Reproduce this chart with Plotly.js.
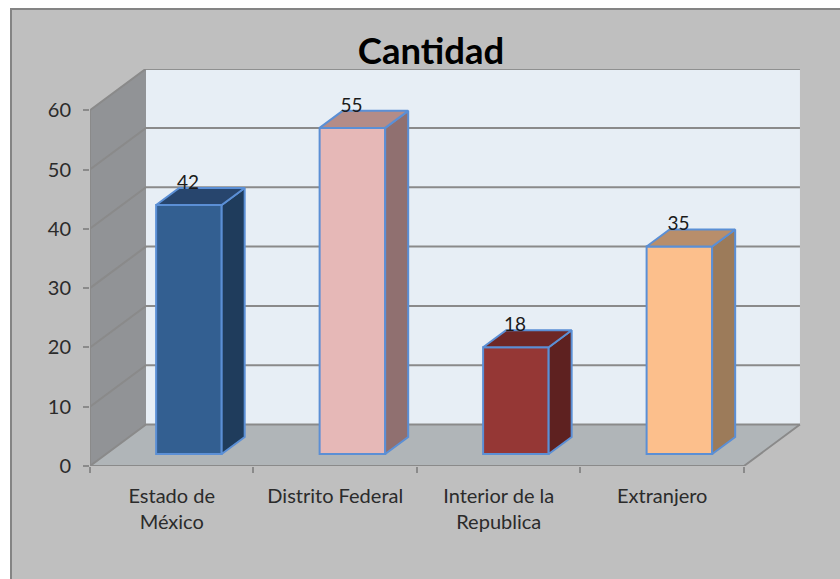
<!DOCTYPE html>
<html>
<head>
<meta charset="utf-8">
<script src="https://cdn.plot.ly/plotly-3.0.1.min.js"></script>
<style>
html,body{margin:0;padding:0;background:#fff;overflow:hidden}
#chart{position:absolute;left:12px;top:10px;width:828px;height:569px;border-left:2px solid #848484;border-top:2px solid #848484;margin-left:-2px;margin-top:-2px}
</style>
</head>
<body>
<div id="chart"></div>
<script>
// Data
var categories = ["Estado de<br>México", "Distrito Federal", "Interior de la<br>Republica", "Extranjero"];
var values = [42, 55, 18, 35];
var yTicks = [0, 10, 20, 30, 40, 50, 60];

// Styles
var frontColors = ["#335F91", "#E6B8B7", "#953735", "#FCBF8C"];
var sideColors  = ["#1F3C5C", "#907070", "#5E2120", "#9C7B5A"];
var topColors   = ["#27456D", "#B38C88", "#6E2726", "#B88E6B"];
var edge = "#5B8FD5";
var gridColor = "#8A8A8A";
var textColor = "#2B2B2B";
var fontFamily = "Lato, 'Open Sans', sans-serif";

// 3D projection constants, in axis units
var wallDX = 0.3425, wallDY = 7;       // depth of the walls
var xMin = -0.5, xFront = 3.5, xMax = 3.855, yMax = 66.95;
var barBase = 2.02, barOff = -0.0955, barW = 0.401;
var barDX = 0.1407, barDY = 2.87;
var labelDX = 0.1, labelDY = 3.55;

function path(pts){ return "M" + pts.map(function(p){return p[0]+","+p[1];}).join("L") + "Z"; }
function line(pts){ return "M" + pts.map(function(p){return p[0]+","+p[1];}).join("L"); }

var shapes = [];
// left wall
shapes.push({type:"path", layer:"below", xref:"x", yref:"y", fillcolor:"#919396", line:{width:0},
  path:path([[xMin,0],[xMin+wallDX,wallDY],[xMin+wallDX,60+wallDY],[xMin,60]])});
// floor
shapes.push({type:"path", layer:"below", xref:"x", yref:"y", fillcolor:"#B0B5B8", line:{width:0},
  path:path([[xMin,0],[xMin+wallDX,wallDY],[xFront+wallDX,wallDY],[xFront,0]])});
// back wall
shapes.push({type:"path", layer:"below", xref:"x", yref:"y", fillcolor:"#E7EEF5", line:{width:0},
  path:path([[xMin+wallDX,wallDY],[xFront+wallDX,wallDY],[xFront+wallDX,60+wallDY],[xMin+wallDX,60+wallDY]])});
// grid
yTicks.forEach(function(t){
  var pts = [[xMin,t],[xMin+wallDX,t+wallDY],[xFront+wallDX,t+wallDY]];
  shapes.push({type:"path", layer:"below", xref:"x", yref:"y", line:{color:gridColor,width:2}, path:line(pts)});
});

var traces = [];
function edgeLine(xs, ys){
  traces.push({type:"scatter", mode:"lines", x:xs, y:ys, cliponaxis:false, hoverinfo:"skip", showlegend:false,
    line:{color:gridColor,width:2}});
}
edgeLine([xMin,xMin],[0,60]);
edgeLine([xMin,xFront,xFront+wallDX],[0,0,wallDY]);
edgeLine([xMin+wallDX,xFront+wallDX],[60+wallDY,60+wallDY]);

// bar front faces
traces.push({type:"bar", x:values.map(function(v,i){return i;}), y:values, base:barBase,
  width:barW, offset:barOff, hoverinfo:"skip", showlegend:false,
  marker:{color:frontColors, line:{color:edge,width:2}}});

// bar side and top faces
values.forEach(function(v,i){
  var l = i+barOff, r = l+barW, b = barBase, t = barBase+v;
  traces.push({type:"scatter", mode:"lines", fill:"toself", fillcolor:sideColors[i], hoverinfo:"skip", showlegend:false,
    line:{color:edge,width:2},
    x:[r,r+barDX,r+barDX,r,r], y:[b,b+barDY,t+barDY,t,b]});
  traces.push({type:"scatter", mode:"lines", fill:"toself", fillcolor:topColors[i], hoverinfo:"skip", showlegend:false,
    line:{color:edge,width:2},
    x:[l,l+barDX,r+barDX,r,l], y:[t,t+barDY,t+barDY,t,t]});
});

// value labels
traces.push({type:"scatter", mode:"text", hoverinfo:"skip", showlegend:false, cliponaxis:false,
  x:values.map(function(v,i){return i+labelDX;}),
  y:values.map(function(v){return v+barBase+labelDY;}),
  text:values.map(String), textposition:"middle center",
  textfont:{family:fontFamily,size:19,color:"#1a1a1a"}});

var layout = {
  width:828, height:569,
  margin:{l:78,r:38,t:59,b:113,pad:0},
  paper_bgcolor:"#BFBFBF", plot_bgcolor:"rgba(0,0,0,0)",
  showlegend:false, bargap:0,
  font:{family:fontFamily,color:textColor,size:20},
  title:{text:"<b>Cantidad</b>", font:{family:fontFamily,size:36.5,color:"#000"},
    xref:"container", yref:"container", x:0.506, y:0.927, xanchor:"center", yanchor:"middle"},
  xaxis:{range:[xMin,xMax], tickmode:"array", tickvals:[0,1,2,3], ticktext:categories,
    showgrid:false, zeroline:false, showline:false, ticks:"", ticklabelstandoff:16,
    tickfont:{family:fontFamily,size:20,color:textColor},
    minor:{tickmode:"array", tickvals:[-0.5,0.5,1.5,2.5,3.5], ticks:"outside", ticklen:6, tickwidth:2, tickcolor:gridColor, showgrid:false}},
  yaxis:{range:[0,yMax], tickmode:"array", tickvals:yTicks,
    showgrid:false, zeroline:false, showline:false, ticks:"outside", ticklen:6, tickwidth:2, tickcolor:gridColor,
    ticklabelstandoff:8, tickfont:{family:fontFamily,size:20,color:textColor}},
  shapes:shapes
};

Plotly.newPlot("chart", traces, layout, {displayModeBar:false, staticPlot:true});
</script>
</body>
</html>
